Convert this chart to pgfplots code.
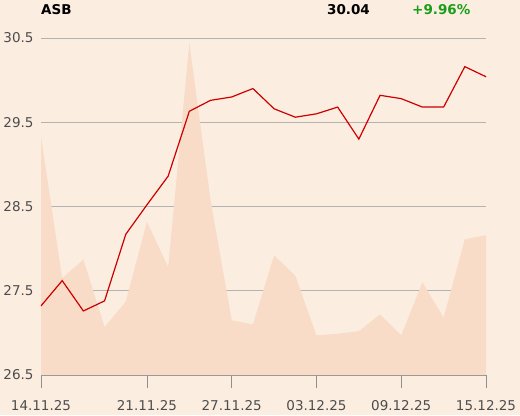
\documentclass[border=0pt]{standalone}
\usepackage{fontspec}
\setmainfont{DejaVu Sans}
\usepackage{pgfplots}
\pgfplotsset{compat=1.18}
\definecolor{bg}{HTML}{FCEDE1}
\definecolor{areac}{HTML}{F8DCC7}
\definecolor{linec}{HTML}{CC0000}
\definecolor{gridc}{HTML}{B3B3B3}
\definecolor{axc}{HTML}{8F8F8F}
\definecolor{labc}{HTML}{4D4D4D}
\definecolor{greenc}{HTML}{1A9E1A}
\begin{document}
\begin{tikzpicture}[x=1bp,y=1bp]
\fill[bg] (0,0) rectangle (520,415);
\useasboundingbox (0,0) rectangle (520,415);
\begin{axis}[
  at={(41bp,40bp)}, anchor=south west,
  width=445bp, height=337bp, scale only axis,
  xmin=0, xmax=21, ymin=26.5, ymax=30.5,
  axis x line*=bottom, axis y line*=left,
  x axis line style={draw=axc, line width=0.8bp, -},
  y axis line style={draw=none},
  xtick={0,5,9,13,17,21},
  xticklabels={14.11.25,21.11.25,27.11.25,03.12.25,09.12.25,15.12.25},
  ytick={26.5,27.5,28.5,29.5,30.5},
  yticklabels={26.5,27.5,28.5,29.5,30.5},
  tick align=outside,
  major tick length=13bp,
  major x tick style={draw=axc, line width=0.8bp},
  major y tick style={draw=bg},
  ymajorgrids, grid style={gridc, line width=0.8bp},
  ticklabel style={font=\fontsize{13.5bp}{15bp}\selectfont, text=labc},
  xticklabel style={yshift=-9bp},
  yticklabel style={xshift=9bp},
  clip=false,
]
\addplot[fill=areac, draw=none] coordinates {
(0,29.33) (1,27.65) (2,27.87) (3,27.07) (4,27.37) (5,28.32) (6,27.78) (7,30.44)
(8,28.58) (9,27.15) (10,27.10) (11,27.92) (12,27.68) (13,26.97) (14,26.99) (15,27.02)
(16,27.22) (17,26.97) (18,27.60) (19,27.18) (20,28.11) (21,28.16)
} \closedcycle;
\addplot[linec, line width=1.2bp, mark=none] coordinates {
(0,27.32) (1,27.62) (2,27.26) (3,27.38) (4,28.17) (5,28.52) (6,28.86) (7,29.63)
(8,29.76) (9,29.80) (10,29.90) (11,29.66) (12,29.56) (13,29.60) (14,29.68) (15,29.30)
(16,29.82) (17,29.78) (18,29.68) (19,29.68) (20,30.16) (21,30.04)
};
\end{axis}
\node[anchor=west, font=\fontsize{13.5bp}{15bp}\selectfont\bfseries, inner sep=0] at (41,405) {ASB};
\node[anchor=east, font=\fontsize{13.5bp}{15bp}\selectfont\bfseries, inner sep=0] at (370,405) {30.04};
\node[anchor=west, font=\fontsize{13.5bp}{15bp}\selectfont\bfseries, text=greenc, inner sep=0] at (412,405) {+9.96\%};
\end{tikzpicture}
\end{document}
